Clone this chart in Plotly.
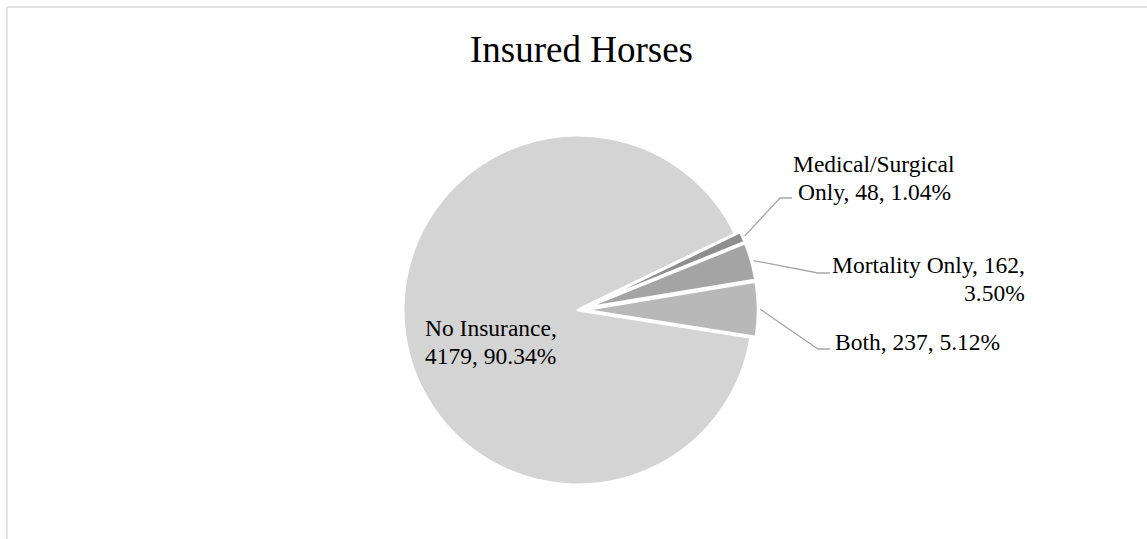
import math
import plotly.graph_objects as go

# ---- data ----
categories = ["No Insurance", "Medical/Surgical Only", "Mortality Only", "Both"]
horses = [4179, 48, 162, 237]
title_text = "Insured Horses"

# ---- style ----
W, H = 1147, 539
slice_colors = ["#d4d4d4", "#8e8e8e", "#a4a4a4", "#b8b8b8"]
slice_pull = [0, 0.03, 0.03, 0.03]
start_angle = 99          # degrees clockwise from 12 o'clock
center_px = (578, 310)
radius_px = 175
serif = "Liberation Serif, Times New Roman, serif"
label_size = 23.5
line_gap = 28
leader_color = "#a6a6a6"

# per-slice label layout: text line breaks, anchor, line-1 y, leader elbow
label_layout = {
    "No Insurance": dict(lines=2, x=423, anchor="left", y=328, elbow=None),
    "Medical/Surgical Only": dict(lines=2, x=874, anchor="center", y=164,
                                  elbow=((780, 198), (792, 198))),
    "Mortality Only": dict(lines=2, x=1027, anchor="right", y=265,
                           elbow=((818, 273), (830, 273))),
    "Both": dict(lines=1, x=833, anchor="left", y=342,
                 elbow=((818, 349), (830, 349))),
}


def px(x):
    return x / W


def py(y):
    return 1 - y / H


total = sum(horses)
max_pull = max(slice_pull)
half = radius_px * (1 + max_pull)
cx, cy = center_px

fig = go.Figure(go.Pie(
    labels=categories,
    values=horses,
    sort=False,
    direction="clockwise",
    rotation=start_angle,
    pull=slice_pull,
    marker=dict(colors=slice_colors, line=dict(color="white", width=3)),
    textinfo="none",
    hoverinfo="label+value+percent",
    showlegend=False,
    domain=dict(x=[px(cx - half), px(cx + half)],
                y=[py(cy + half), py(cy - half)]),
))

annotations = []
shapes = []

# slice labels and leader lines
angle = start_angle
for name, val, pull in zip(categories, horses, slice_pull):
    frac = val / total
    mid = math.radians(angle + frac * 180)
    angle += frac * 360
    pct = f"{frac * 100:.2f}%"
    lay = label_layout[name]
    if name == "Medical/Surgical Only":
        parts = ["Medical/Surgical", f"Only, {val}, {pct}"]
    elif name == "Mortality Only":
        parts = [f"{name}, {val},", pct]
    elif name == "No Insurance":
        parts = [f"{name},", f"{val}, {pct}"]
    else:
        parts = [f"{name}, {val}, {pct}"]
    for i, line in enumerate(parts):
        annotations.append(dict(
            text=line, x=px(lay["x"]), y=py(lay["y"] + i * line_gap),
            xref="paper", yref="paper", xanchor=lay["anchor"], yanchor="middle",
            showarrow=False, font=dict(family=serif, size=label_size, color="black"),
        ))
    if lay["elbow"]:
        r0 = radius_px * (1 + pull) + 2
        sx = cx + r0 * math.sin(mid)
        sy = cy - r0 * math.cos(mid)
        (ex, ey), (hx, hy) = lay["elbow"]
        path = f"M {px(sx)} {py(sy)} L {px(ex)} {py(ey)} L {px(hx)} {py(hy)}"
        shapes.append(dict(type="path", xref="paper", yref="paper", path=path,
                           line=dict(color=leader_color, width=1.3)))

# chart title
annotations.append(dict(
    text=title_text, x=px(581.5), y=py(49.5), xref="paper", yref="paper",
    xanchor="center", yanchor="middle", showarrow=False,
    font=dict(family=serif, size=37, color="black"),
))

# chart area frame (top and left edges visible)
shapes.append(dict(type="line", xref="paper", yref="paper",
                   x0=px(7), y0=py(7), x1=px(W + 5), y1=py(7),
                   line=dict(color="#d9d9d9", width=1.3)))
shapes.append(dict(type="line", xref="paper", yref="paper",
                   x0=px(7), y0=py(7), x1=px(7), y1=py(H + 5),
                   line=dict(color="#d9d9d9", width=1.3)))

fig.update_layout(
    width=W, height=H, autosize=False,
    margin=dict(l=0, r=0, t=0, b=0),
    paper_bgcolor="white", plot_bgcolor="white",
    annotations=annotations, shapes=shapes,
)

fig.write_html("out.html", config=dict(displayModeBar=False))
